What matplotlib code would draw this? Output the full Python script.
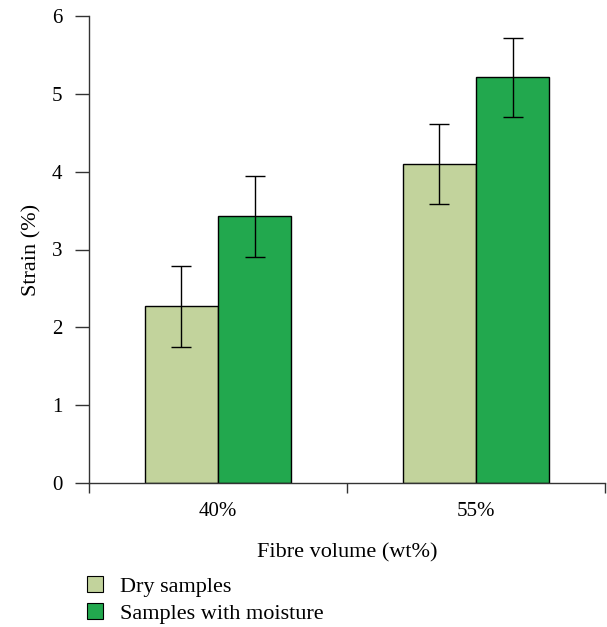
import matplotlib
matplotlib.use("Agg")
import matplotlib.pyplot as plt
from matplotlib.patches import Patch
import numpy as np

categories = ["40%", "55%"]
dry = [2.27, 4.10]
dry_err = [0.52, 0.51]
moist = [3.43, 5.21]
moist_err = [0.52, 0.51]

plt.rcParams['font.family'] = ['Liberation Serif', 'DejaVu Serif']

fig = plt.figure(figsize=(6.07, 6.27), dpi=100)
ax = fig.add_axes([89/607, 1-483/627, (605-89)/607, (483-16)/627])

x = np.arange(len(categories)) + 0.5
w = 0.284
c_dry = '#C2D39C'
c_moist = '#22A84E'
ekw = dict(elinewidth=1.0, capthick=1.0, ecolor='black')
ax.bar(x - w/2, dry, w, color=c_dry, edgecolor='black', linewidth=1.0,
       yerr=dry_err, capsize=7.5, error_kw=ekw, zorder=2)
ax.bar(x + w/2, moist, w, color=c_moist, edgecolor='black', linewidth=1.0,
       yerr=moist_err, capsize=7.5, error_kw=ekw, zorder=2)

fs = 15
fl = 16
ax.set_xlim(0, 2)
ax.set_ylim(0, 6)
ax.set_yticks(range(0, 7))
ax.set_xticks([0, 1, 2])
ax.set_xticklabels([])
ax.set_xticks(x, minor=True)
ax.set_xticklabels(categories, minor=True)
ax.tick_params(axis='x', which='minor', length=0, pad=14, labelsize=fs)
ax.tick_params(axis='x', which='major', length=7, width=1.0, direction='out', color='#333333')
ax.tick_params(axis='y', length=10, width=1.0, direction='out', labelsize=fs, pad=9, color='#333333')
for s in ['top', 'right']:
    ax.spines[s].set_visible(False)
for s in ['left', 'bottom']:
    ax.spines[s].set_linewidth(1.0)
    ax.spines[s].set_color('#333333')

ax.set_ylabel("Strain (%)", fontsize=fl, labelpad=8)
ax.set_xlabel("Fibre volume (wt%)", fontsize=fl, labelpad=16)

handles = [Patch(facecolor=c_dry, edgecolor='black', linewidth=0.8, label='Dry samples'),
           Patch(facecolor=c_moist, edgecolor='black', linewidth=0.8, label='Samples with moisture')]
fig.legend(handles=handles, loc='upper left', bbox_to_anchor=(87/607, 1-576/627),
           frameon=False, fontsize=fl, handlelength=0.7, handleheight=0.7,
           handletextpad=0.8, labelspacing=0.3, borderaxespad=0, borderpad=0)

fig.savefig("out.png", dpi=100)
